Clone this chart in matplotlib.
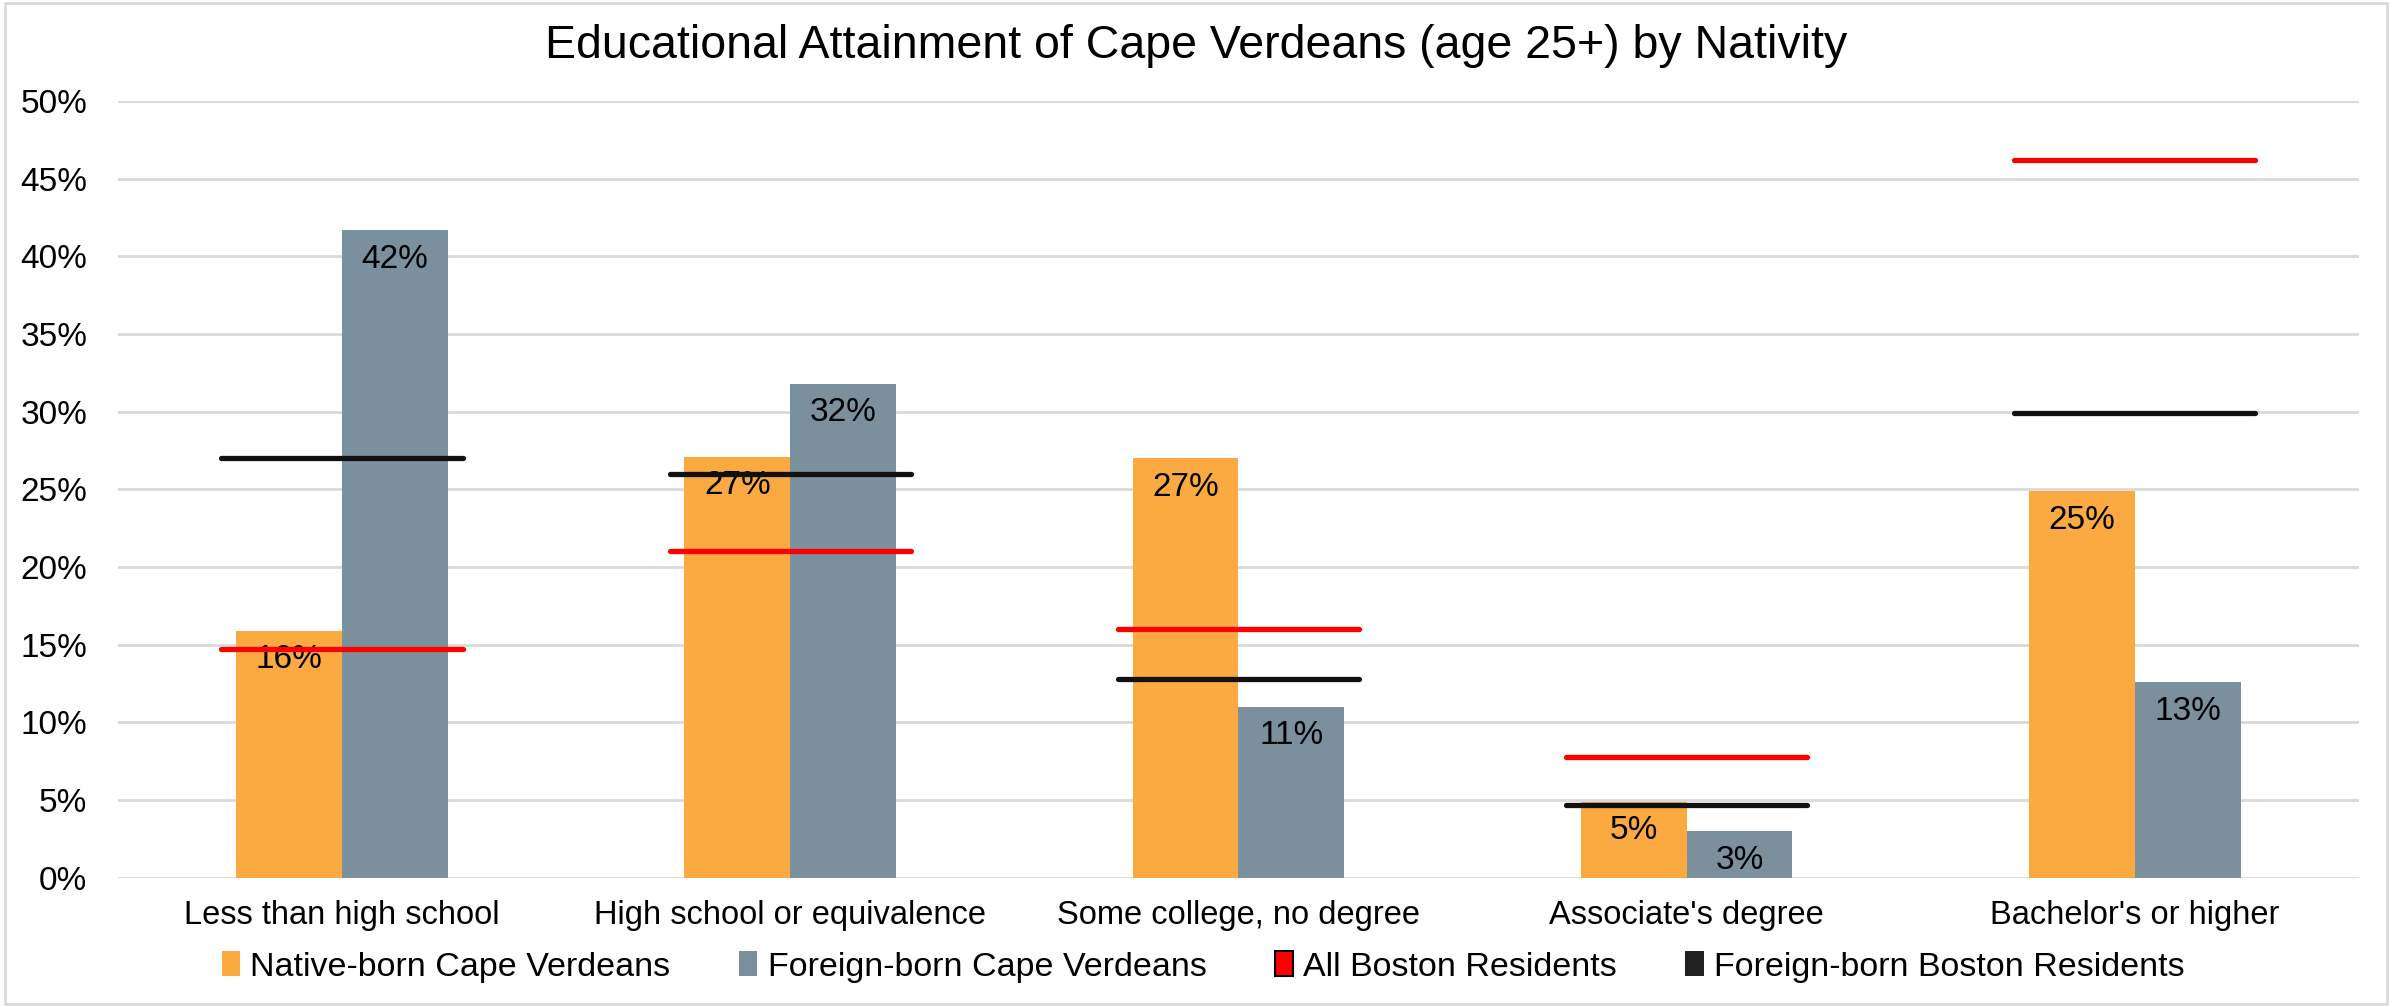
import numpy as np
import matplotlib
matplotlib.use("Agg")
import matplotlib.pyplot as plt
from matplotlib.patches import Patch, Rectangle

plt.rcParams['font.family'] = ['Liberation Sans', 'DejaVu Sans']

categories = ["Less than high school", "High school or equivalence",
              "Some college, no degree", "Associate's degree", "Bachelor's or higher"]
native_cv = [15.9, 27.1, 27.0, 4.9, 24.9]
foreign_cv = [41.7, 31.8, 11.0, 3.0, 12.6]
all_boston = [14.7, 21.0, 16.0, 7.8, 46.2]
foreign_boston = [27.0, 26.0, 12.8, 4.7, 29.9]
native_labels = ["16%", "27%", "27%", "5%", "25%"]
foreign_labels = ["42%", "32%", "11%", "3%", "13%"]
yticks = [0, 5, 10, 15, 20, 25, 30, 35, 40, 45, 50]

orange = '#FBAA42'
slate = '#7A909C'
grid_c = '#D9D9D9'

fig = plt.figure(figsize=(23.92, 10.07), dpi=100)
ax = fig.add_axes([0.0493, 0.1284, 0.9369, 0.7713])

x = np.arange(len(categories))
w = 0.236

ax.bar(x - w / 2, native_cv, w, color=orange, zorder=2)
ax.bar(x + w / 2, foreign_cv, w, color=slate, zorder=2)

# data labels just inside the bar tops
for i in range(len(categories)):
    ax.annotate(native_labels[i], (x[i] - w / 2, native_cv[i]), xytext=(0, -21),
                textcoords='offset points', ha='center', va='center', fontsize=24, zorder=3)
    ax.annotate(foreign_labels[i], (x[i] + w / 2, foreign_cv[i]), xytext=(0, -21),
                textcoords='offset points', ha='center', va='center', fontsize=24, zorder=3)

# benchmark lines
hw = 0.269
ax.hlines(all_boston, x - hw, x + hw, colors='#FF0000', linewidth=3.8,
          capstyle='round', zorder=4)
ax.hlines(foreign_boston, x - hw, x + hw, colors='#111111', linewidth=3.8,
          capstyle='round', zorder=4)

ax.set_xlim(-0.5, 4.5)
ax.set_ylim(0, 50)
ax.set_yticks(yticks)
ax.set_yticklabels([f"{t}%" for t in yticks], fontsize=24)
ax.set_xticks(x)
ax.set_xticklabels(categories, fontsize=23.5)
ax.tick_params(axis='both', length=0)
ax.tick_params(axis='y', pad=22)
ax.tick_params(axis='x', pad=16)
ax.grid(axis='y', color=grid_c, linewidth=2)
ax.set_axisbelow(True)
for s in ax.spines.values():
    s.set_visible(False)

fig.text(0.5, 1 - 46 / 1007, "Educational Attainment of Cape Verdeans (age 25+) by Nativity",
         ha='center', va='center', fontsize=33.5)

handles = [Patch(facecolor=orange, edgecolor='none'),
           Patch(facecolor=slate, edgecolor='none'),
           Patch(facecolor='#FF0000', edgecolor='black', linewidth=1.5),
           Patch(facecolor='#222222', edgecolor='none')]
names = ["Native-born Cape Verdeans", "Foreign-born Cape Verdeans",
         "All Boston Residents", "Foreign-born Boston Residents"]
fig.legend(handles, names, loc='center', bbox_to_anchor=(0.503, 1 - 967 / 1007), ncol=4,
           frameon=False, fontsize=24.5, handlelength=0.55, handleheight=0.75,
           handletextpad=0.3, columnspacing=2.0)

fig.patches.append(Rectangle((0.002, 0.003), 0.996, 0.994, transform=fig.transFigure,
                             fill=False, edgecolor=grid_c, linewidth=2))

fig.savefig("out.png", dpi=100, facecolor='white')
